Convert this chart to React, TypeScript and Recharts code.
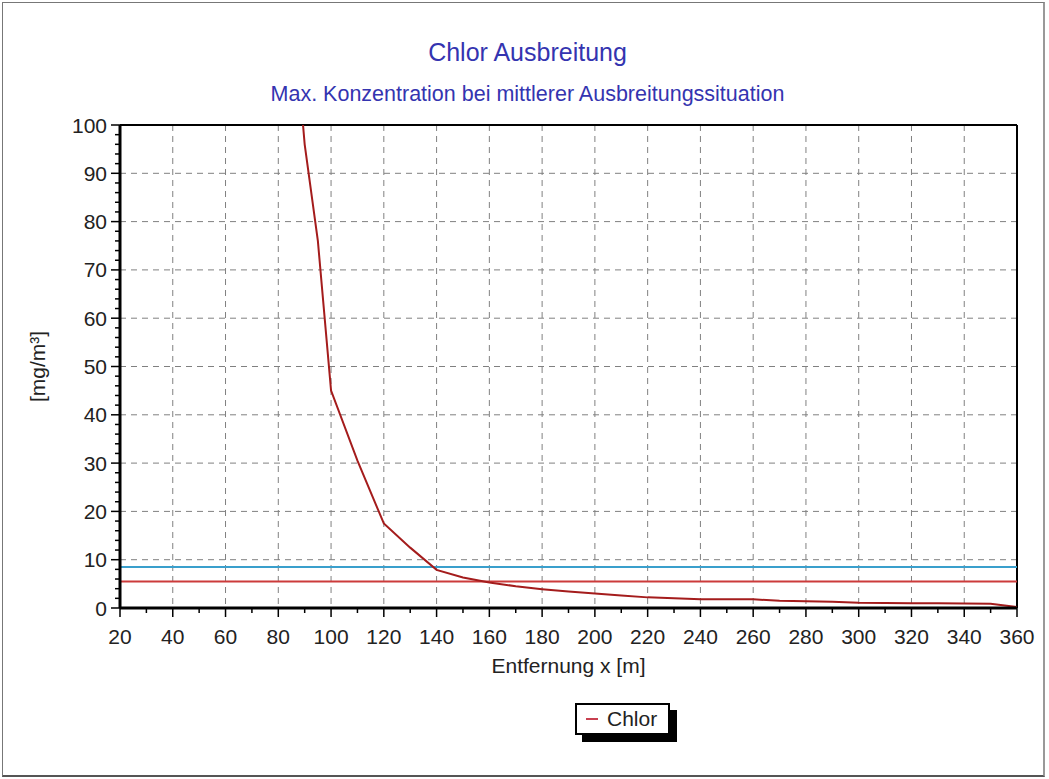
import React from 'react';
import { LineChart, Line, XAxis, YAxis, CartesianGrid, ReferenceLine } from 'recharts';

// Entfernung x [m] and max. concentration [mg/m³]
const distances = [80, 90, 95, 100, 110, 120, 130, 140, 150, 160, 170, 180, 190, 200, 210, 220, 230, 240, 250, 260, 270, 280, 290, 300, 310, 320, 330, 340, 350, 360];
const chlorValues = [160, 96, 76, 45, 30.5, 17.5, 12.5, 7.9, 6.3, 5.3, 4.5, 3.9, 3.4, 3.0, 2.6, 2.2, 2.0, 1.8, 1.8, 1.8, 1.5, 1.4, 1.3, 1.1, 1.05, 1.0, 1.0, 0.95, 0.9, 0.2];

// horizontal limit lines
const blueLimit = 8.5;
const redLimit = 5.5;

const xMajorTicks = [20, 40, 60, 80, 100, 120, 140, 160, 180, 200, 220, 240, 260, 280, 300, 320, 340, 360];
const xMinorTicks = [30, 50, 70, 90, 110, 130, 150, 170, 190, 210, 230, 250, 270, 290, 310, 330, 350];
const yMajorTicks = [0, 10, 20, 30, 40, 50, 60, 70, 80, 90, 100];
const yMinorTicks = [2, 4, 6, 8, 12, 14, 16, 18, 22, 24, 26, 28, 32, 34, 36, 38, 42, 44, 46, 48, 52, 54, 56, 58, 62, 64, 66, 68, 72, 74, 76, 78, 82, 84, 86, 88, 92, 94, 96, 98];

const xGrid = [40, 60, 80, 100, 120, 140, 160, 180, 200, 220, 240, 260, 280, 300, 320, 340];
const yGrid = [10, 20, 30, 40, 50, 60, 70, 80, 90];

const data = distances.map((x, i) => ({ x, chlor: chlorValues[i] }));
const xTicks = [...xMajorTicks, ...xMinorTicks].sort((a, b) => a - b);
const yTicks = [...yMajorTicks, ...yMinorTicks].sort((a, b) => a - b);

const FONT = '"Liberation Sans", Arial, sans-serif';
const TITLE_COLOR = '#3434b0';

const XTick = (props: any) => {
  const { x, y, payload } = props;
  const major = xMajorTicks.includes(payload.value);
  return (
    <g>
      <line x1={x} x2={x} y1={y} y2={y + (major ? 9 : 5)} stroke="#000" strokeWidth={1.5} />
      {major && (
        <text x={x} y={y + 36} textAnchor="middle" fontSize={21} fontFamily={FONT} fill="#222">
          {payload.value}
        </text>
      )}
    </g>
  );
};

const YTick = (props: any) => {
  const { x, y, payload } = props;
  const major = yMajorTicks.includes(payload.value);
  return (
    <g>
      <line x1={x - (major ? 9 : 5)} x2={x} y1={y} y2={y} stroke="#000" strokeWidth={1.5} />
      {major && (
        <text x={x - 13} y={y} dy="0.36em" textAnchor="end" fontSize={21} fontFamily={FONT} fill="#222">
          {payload.value}
        </text>
      )}
    </g>
  );
};

export default function App() {
  return (
    <div style={{ position: 'relative', width: 1049, height: 779, background: '#fff', fontFamily: FONT }}>
      <style>{'body{margin:0}'}</style>
      <div
        style={{
          position: 'absolute', left: 2, top: 2, width: 1040, height: 772,
          borderLeft: '1px solid #777', borderTop: '1px solid #777',
          borderRight: '2px solid #999', borderBottom: '2px solid #555',
        }}
      />
      <div style={{ position: 'absolute', left: 3, top: 40, width: 1049, textAlign: 'center', fontSize: 25, lineHeight: '25px', color: TITLE_COLOR }}>
        Chlor Ausbreitung
      </div>
      <div style={{ position: 'absolute', left: 3, top: 84, width: 1049, textAlign: 'center', fontSize: 21.5, lineHeight: '21.5px', color: TITLE_COLOR }}>
        Max. Konzentration bei mittlerer Ausbreitungssituation
      </div>
      <div style={{ position: 'absolute', left: 0, top: 0 }}>
        <LineChart width={1049} height={779} data={data} margin={{ top: 125, right: 32, bottom: 0, left: 0 }}>
          <CartesianGrid
            stroke="#808080"
            strokeDasharray="6 5"
            horizontalValues={yGrid}
            verticalValues={xGrid}
          />
          <XAxis
            dataKey="x"
            type="number"
            domain={[20, 360]}
            allowDataOverflow
            ticks={xTicks}
            interval={0}
            height={171}
            tickSize={0}
            tickMargin={0}
            tickLine={false}
            axisLine={{ stroke: '#000', strokeWidth: 3 }}
            tick={XTick}
            label={{ value: 'Entfernung x [m]', position: 'insideTop', offset: 50, fontSize: 21, fill: '#222', fontFamily: FONT }}
          />
          <YAxis
            type="number"
            domain={[0, 100]}
            allowDataOverflow
            ticks={yTicks}
            interval={0}
            width={120}
            tickSize={0}
            tickMargin={0}
            tickLine={false}
            axisLine={{ stroke: '#000', strokeWidth: 3 }}
            tick={YTick}
            label={{ value: '[mg/m³]', angle: -90, position: 'insideLeft', offset: 38, fontSize: 21, fill: '#222', fontFamily: FONT, style: { textAnchor: 'middle' } }}
          />
          <ReferenceLine y={100} stroke="#000" strokeWidth={2} />
          <ReferenceLine x={360} stroke="#000" strokeWidth={2} />
          <ReferenceLine y={blueLimit} stroke="#3a9fcc" strokeWidth={2} />
          <ReferenceLine y={redLimit} stroke="#cc3b3b" strokeWidth={2} />
          <Line
            type="linear"
            dataKey="chlor"
            name="Chlor"
            stroke="#a41c1c"
            strokeWidth={2}
            dot={false}
            isAnimationActive={false}
          />
        </LineChart>
      </div>
      <div
        style={{
          position: 'absolute', left: 575, top: 703, width: 91, height: 28,
          border: '2px solid #000', background: '#fff', boxShadow: '7px 7px 0 #000',
          display: 'flex', alignItems: 'center',
        }}
      >
        <span style={{ display: 'inline-block', width: 12, height: 2, background: '#c84050', marginLeft: 9, marginRight: 9 }} />
        <span style={{ fontSize: 21, color: '#222' }}>Chlor</span>
      </div>
    </div>
  );
}
